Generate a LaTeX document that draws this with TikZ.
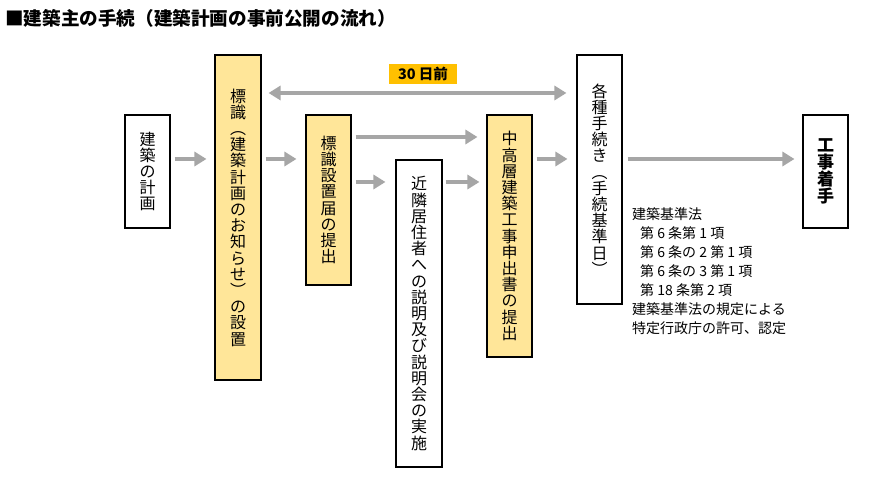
\documentclass[tikz,border=0pt]{standalone}
\usepackage{fontspec}
\setmainfont{Noto Sans CJK JP}
\usetikzlibrary{arrows.meta}
\definecolor{boxyellow}{HTML}{FFE699}
\definecolor{labelorange}{HTML}{FFC000}
\definecolor{arrowgray}{HTML}{A6A6A6}
\begin{document}
\begin{tikzpicture}[x=1pt,y=-1pt,
  vbox/.style={draw=black,line width=1.1pt,rectangle,inner sep=0pt,align=center,
    font=\fontsize{16}{16.2}\selectfont},
  ybox/.style={vbox,fill=boxyellow},
  wbox/.style={vbox,fill=white},
  garrow/.style={draw=arrowgray,line width=4.5pt,-{Triangle[width=14pt,length=12pt]}},
  gdarrow/.style={draw=arrowgray,line width=4.5pt,{Triangle[width=14pt,length=12pt]}-{Triangle[width=14pt,length=12pt]}}
]
\useasboundingbox (0,0) rectangle (870,478);
\fill[white] (0,0) rectangle (870,478);

\node[anchor=west,inner sep=0pt,font=\fontsize{18.6}{20}\selectfont\bfseries] (title) at (5,18) {■建築主の手続（建築計画の事前公開の流れ）};

\node[wbox,minimum width=45pt,minimum height=113pt] (b1) at (147.5,171.5) {建\\築\\の\\計\\画};
\node[ybox,minimum width=46pt,minimum height=325pt] (b2) at (238,217.5) {標\\識\\︵\\建\\築\\計\\画\\の\\お\\知\\ら\\せ\\︶\\の\\設\\置};
\node[ybox,minimum width=45pt,minimum height=170pt] (b3) at (328.5,200) {標\\識\\設\\置\\届\\の\\提\\出};
\node[wbox,minimum width=46pt,minimum height=307pt] (b4) at (419,313.5) {近\\隣\\居\\住\\者\\へ\\の\\説\\明\\及\\び\\説\\明\\会\\の\\実\\施};
\node[ybox,minimum width=45pt,minimum height=242pt] (b5) at (509.5,236) {中\\高\\層\\建\\築\\工\\事\\申\\出\\書\\の\\提\\出};
\node[wbox,minimum width=45pt,minimum height=249pt] (b6) at (599.5,179.5) {各\\種\\手\\続\\き\\︵\\手\\続\\基\\準\\日\\︶};
\node[wbox,minimum width=45pt,minimum height=113pt,font=\fontsize{17}{17}\selectfont\bfseries] (b7) at (825.5,171.5) {工\\事\\着\\手};

\node[fill=labelorange,minimum width=68pt,minimum height=20pt,inner sep=0pt,font=\fontsize{14.5}{15}\selectfont\bfseries] (lab) at (423,74) {30 日前};

\coordinate (yA) at (0,93);
\coordinate (yB) at (0,137);
\coordinate (yC) at (0,159);
\coordinate (yD) at (0,182);

\draw[garrow,shorten <=4pt,shorten >=8pt] (b1.east |- yC) -- (b2.west |- yC);
\draw[garrow,shorten <=4pt,shorten >=9pt] (b2.east |- yC) -- (b3.west |- yC);
\draw[gdarrow,shorten <=7pt,shorten >=10pt] (b2.east |- yA) -- (b6.west |- yA);
\draw[garrow,shorten <=4pt,shorten >=9pt] (b3.east |- yB) -- (b5.west |- yB);
\draw[garrow,shorten <=4pt,shorten >=10pt] (b3.east |- yD) -- (b4.west |- yD);
\draw[garrow,shorten <=3pt,shorten >=7pt] (b4.east |- yD) -- (b5.west |- yD);
\draw[garrow,shorten <=4pt,shorten >=9pt] (b5.east |- yC) -- (b6.west |- yC);
\draw[garrow,shorten <=5pt,shorten >=8pt] (b6.east |- yC) -- (b7.west |- yC);

\node[anchor=north west,align=left,inner sep=0pt,font=\fontsize{14}{19}\selectfont] (law) at (632,207)
{建築基準法\\
\hspace*{8pt}第 6 条第 1 項\\
\hspace*{8pt}第 6 条の 2 第 1 項\\
\hspace*{8pt}第 6 条の 3 第 1 項\\
\hspace*{8pt}第 18 条第 2 項\\
建築基準法の規定による\\
特定行政庁の許可、認定};
\end{tikzpicture}
\end{document}
